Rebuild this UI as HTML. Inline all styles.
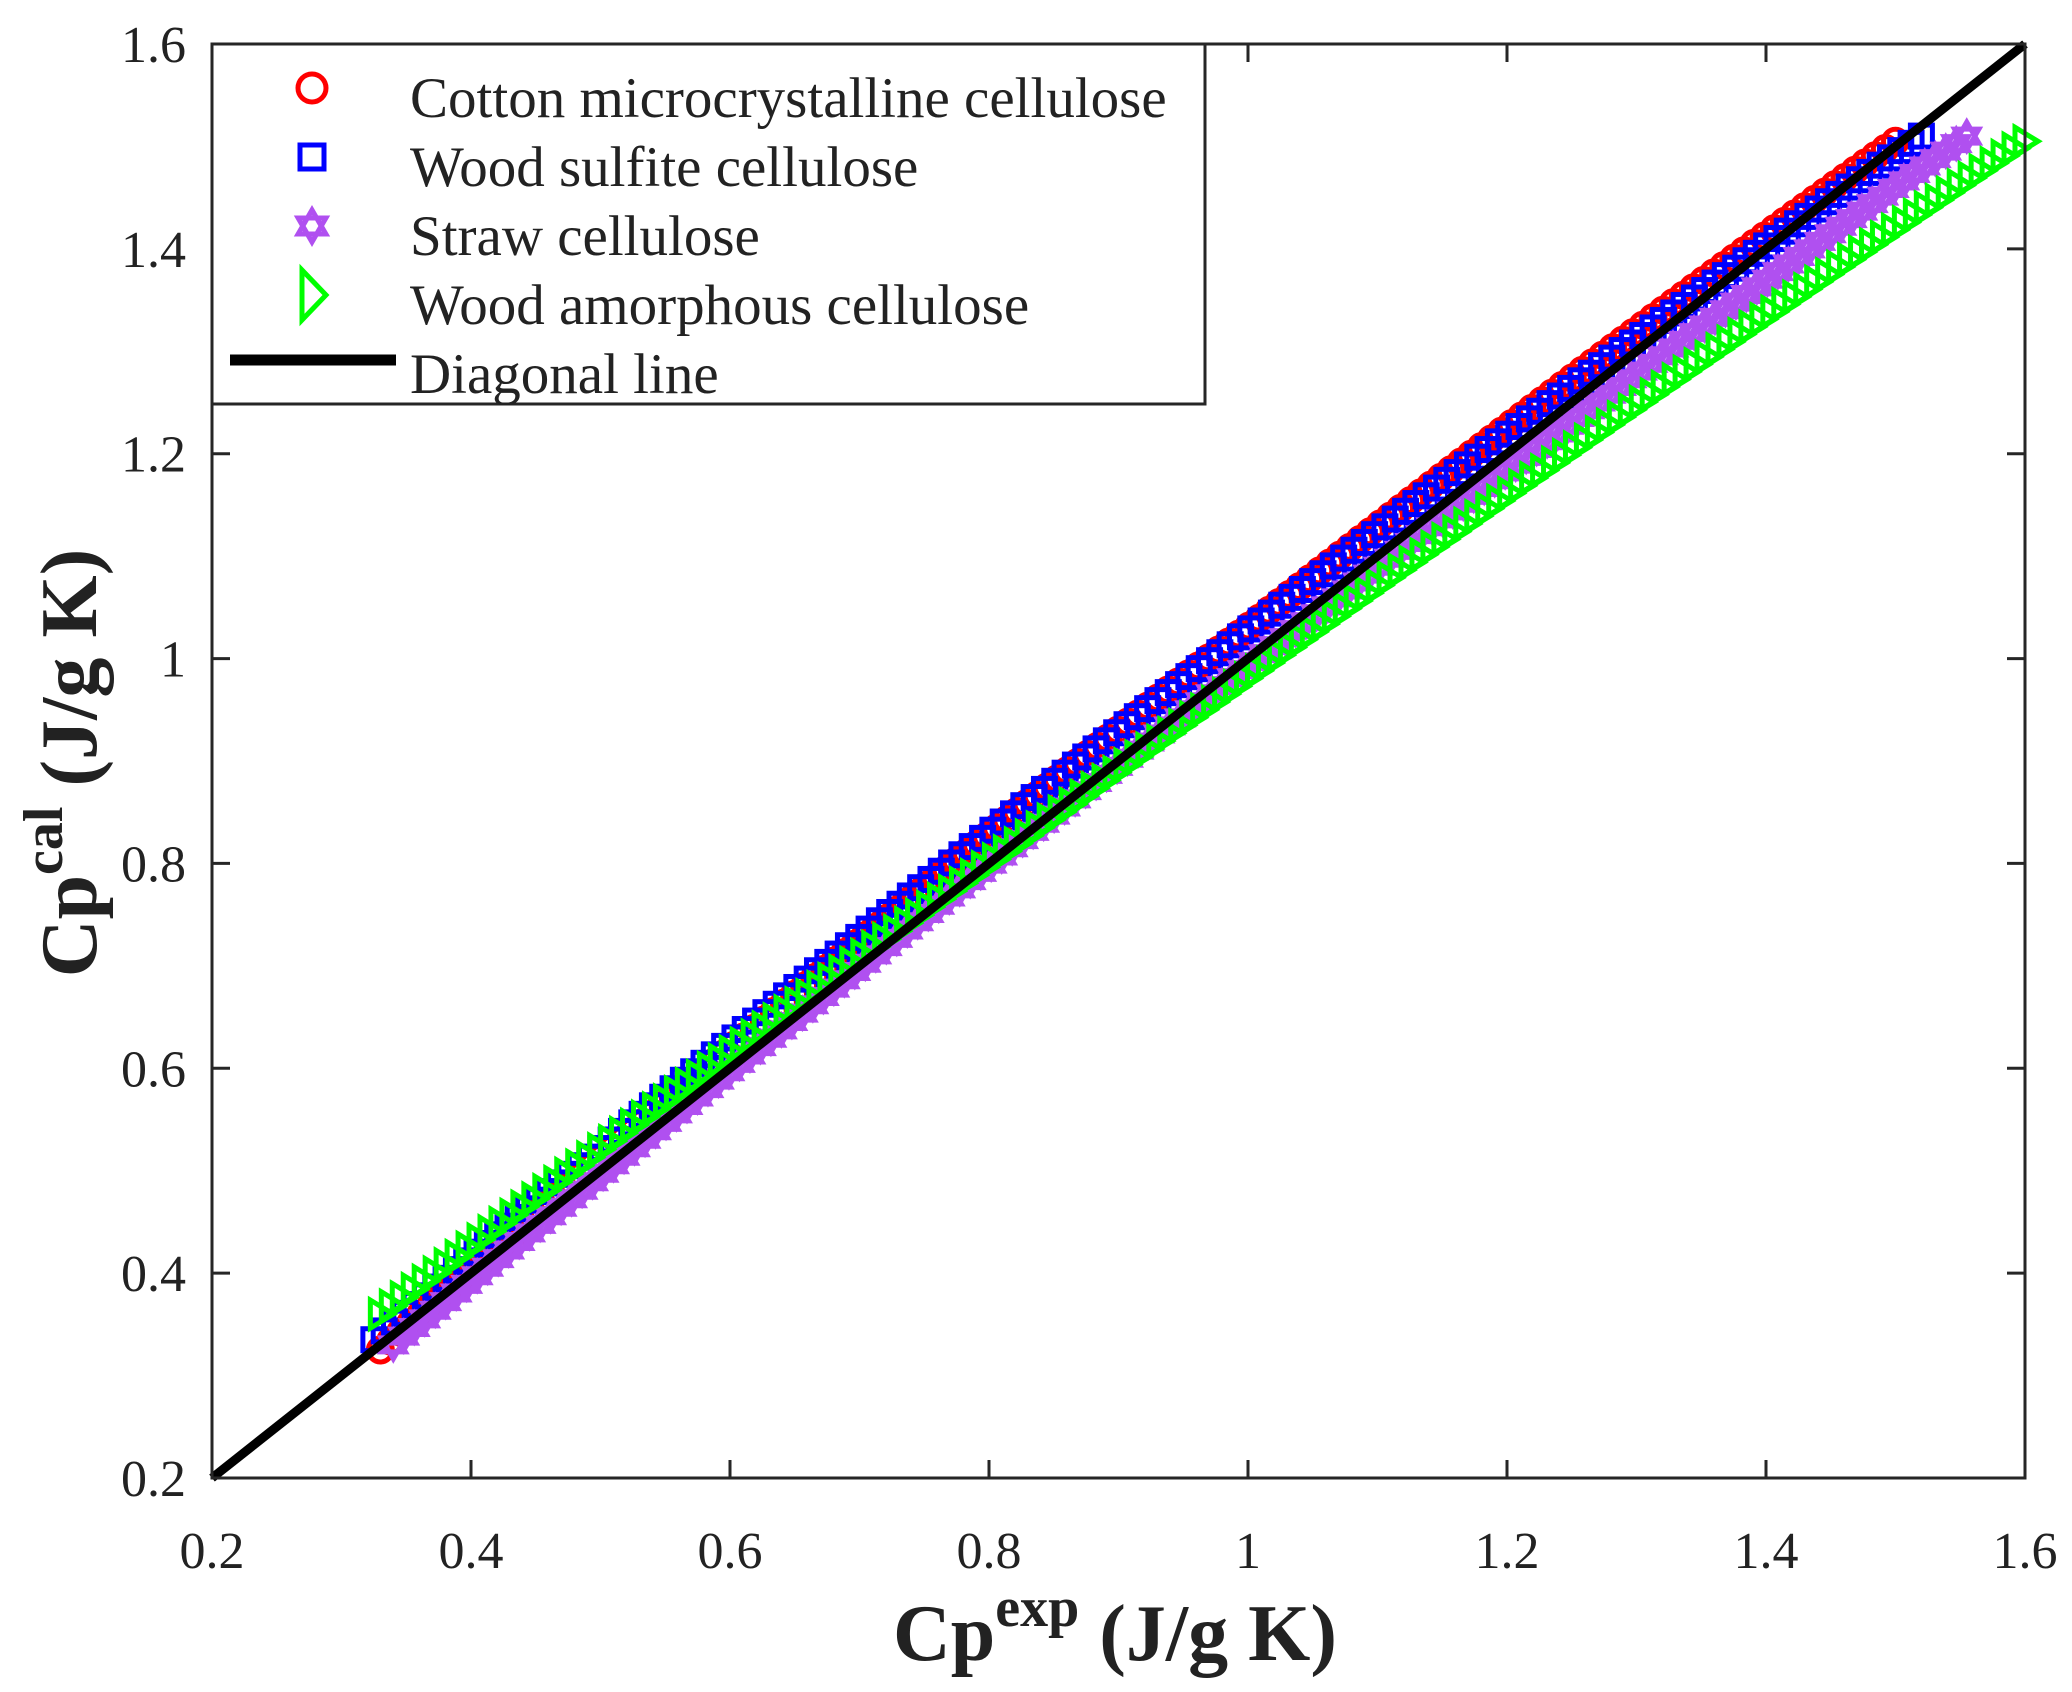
<!DOCTYPE html>
<html><head><meta charset="utf-8"><style>
html,body{margin:0;padding:0;background:#fff;}
svg{display:block;}
text{font-family:"Liberation Serif",serif;fill:#222;}
</style></head><body>
<svg id="s" width="2072" height="1692" viewBox="0 0 2072 1692" xmlns="http://www.w3.org/2000/svg">
<rect width="2072" height="1692" fill="#fff"/>
<g id="data"></g>
<line x1="212" y1="1478" x2="2025" y2="44" stroke="#000" stroke-width="9"/>
<rect x="212" y="44" width="1813" height="1434" fill="none" stroke="#262626" stroke-width="3"/>
<g id="ticks" stroke="#262626" stroke-width="3"></g>
<g id="labels" font-size="52"></g>
<text x="1115" y="1660" font-size="80" font-weight="bold" text-anchor="middle">Cp<tspan dy="-34" font-size="56">exp</tspan><tspan dy="34"> (J/g K)</tspan></text>
<text transform="translate(96,763) rotate(-90)" font-size="80" font-weight="bold" text-anchor="middle">Cp<tspan dy="-34" font-size="56">cal</tspan><tspan dy="34"> (J/g K)</tspan></text>
<rect x="212" y="44" width="993" height="360" fill="#fff" stroke="#262626" stroke-width="3"/>
<circle cx="312" cy="88" r="14" fill="none" stroke="#f00" stroke-width="5"/>
<rect x="300" y="145" width="24" height="24" fill="none" stroke="#00f" stroke-width="5"/>
<g id="lgstar"></g>
<polygon points="302,270 326,295 302,320" fill="none" stroke="#0f0" stroke-width="5"/>
<line x1="230" y1="360" x2="396" y2="360" stroke="#000" stroke-width="11"/>
<g font-size="57">
<text x="410" y="117">Cotton microcrystalline cellulose</text>
<text x="410" y="186">Wood sulfite cellulose</text>
<text x="410" y="255">Straw cellulose</text>
<text x="410" y="324">Wood amorphous cellulose</text>
<text x="410" y="393">Diagonal line</text>
</g>
</svg>
<script>
var NS="http://www.w3.org/2000/svg";
function X(v){return 212+(v-0.2)/1.4*1813;}
function Y(v){return 1478-(v-0.2)/1.4*1434;}
function el(t,a,p){var e=document.createElementNS(NS,t);for(var k in a)e.setAttribute(k,a[k]);p.appendChild(e);return e;}
var tk=document.getElementById('ticks'),lb=document.getElementById('labels');
var labs=['0.2','0.4','0.6','0.8','1','1.2','1.4','1.6'];
for(var i=0;i<8;i++){var v=0.2+0.2*i;var x=X(v),y=Y(v);
 if(i>0&&i<7){el('line',{x1:x,y1:1478,x2:x,y2:1460},tk);el('line',{x1:x,y1:44,x2:x,y2:62},tk);
 el('line',{x1:212,y1:y,x2:230,y2:y},tk);el('line',{x1:2025,y1:y,x2:2007,y2:y},tk);}
 var t=el('text',{x:x,y:1568,'text-anchor':'middle'},lb);t.textContent=labs[i];
 var t2=el('text',{x:186,y:y+18,'text-anchor':'end'},lb);t2.textContent=labs[i];}
function star(cx,cy,r,p,col,w){var a=[],b=[];for(var k=0;k<3;k++){var an=-Math.PI/2+k*2*Math.PI/3;a.push((cx+r*Math.cos(an))+','+(cy+r*Math.sin(an)));var bn=Math.PI/2+k*2*Math.PI/3;b.push((cx+r*Math.cos(bn))+','+(cy+r*Math.sin(bn)));}
 el('polygon',{points:a.join(' '),fill:'none',stroke:col,'stroke-width':w},p);el('polygon',{points:b.join(' '),fill:'none',stroke:col,'stroke-width':w},p);}
var d=document.getElementById('data');
var N=150;
for(var i=0;i<=N;i++){var e=0.33+(1.5-0.33)*i/N;var c=e+0.09*(e-0.33)*(1.5-e)+0.01*(e-0.33)/1.17-0.005;el('circle',{cx:X(e),cy:Y(c),r:12,fill:'none',stroke:'#f00','stroke-width':5},d);}
for(var i=0;i<=N;i++){var e=0.325+(1.52-0.325)*i/N;var c=e+0.08*(e-0.325)*(1.52-e)+0.01-0.02*(e-0.325)/1.2;el('rect',{x:X(e)-11,y:Y(c)-11,width:22,height:22,fill:'none',stroke:'#00f','stroke-width':5},d);}
for(var i=0;i<=N;i++){var e=0.34+(1.555-0.34)*i/N;var c=0.33+(e-0.34)*(1.18/1.215)+0.06*(e-0.34)*(1.555-e);star(X(e),Y(c),14,d,'#b050f0',5);}
for(var i=0;i<=N;i++){var e=0.33+(1.6-0.33)*i/N;var c=0.36+(e-0.33)*(1.145/1.27)-0.0434*(e-0.33)*(e-1.6);var x=X(e),y=Y(c);el('polygon',{points:(x-10)+','+(y-14)+' '+(x+13)+','+y+' '+(x-10)+','+(y+14),fill:'none',stroke:'#0f0','stroke-width':5},d);}
star(312,226,16,document.getElementById('lgstar'),'#b050f0',5);
</script>
</body></html>
